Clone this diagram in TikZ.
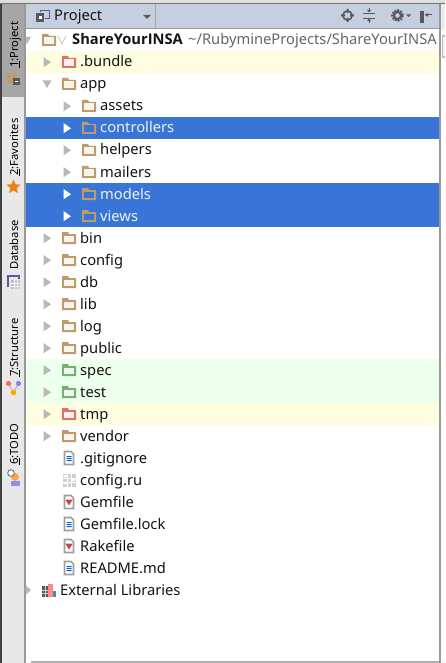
\documentclass[tikz,border=0pt]{standalone}
\usepackage{fontspec}
\usetikzlibrary{shapes.geometric}
\setmainfont{Noto Sans}
\newfontfamily\boldfam{Open Sans}
\definecolor{fold}{HTML}{BF9B6B}
\definecolor{redf}{HTML}{D9736B}
\definecolor{greenf}{HTML}{6FB36F}
\definecolor{arr}{HTML}{B8B8B8}
\definecolor{sel}{HTML}{3875D7}
\definecolor{txt}{HTML}{141414}
\definecolor{HeaderC}{HTML}{C5CFE0}
\tikzset{
 rowtext/.style={anchor=base west,inner sep=0pt,font=\fontsize{14.7}{16}\selectfont,text=txt},
 tabtext/.style={anchor=base west,inner sep=0pt,rotate=90,font=\fontsize{11.2}{13}\selectfont,text=black},
}
\newcommand{\folderic}[3]{% x y colour
 \fill[#3] (#1-7,#2-6) -- (#1-7,#2+6) -- (#1+7,#2+6) -- (#1+7,#2-4) -- (#1+0,#2-4) -- (#1-1,#2-6) -- cycle;
 \fill[#3!12!white] (#1-5.2,#2-2.5) rectangle (#1+5.2,#2+4.3);
}
\newcommand{\folderinner}[3]{% x y inner
 \fill[#3] (#1-5.2,#2-2.5) rectangle (#1+5.2,#2+4.3);
}
\newcommand{\arrR}[3]{\fill[#3] (#1-3.5,#2-5) -- (#1+4,#2+0.3) -- (#1-3.5,#2+5.3) -- cycle;}
\newcommand{\arrD}[2]{\fill[arr] (#1-4.5,#2-3.5) -- (#1+4.5,#2-3.5) -- (#1,#2+4) -- cycle;}
\newcommand{\fileic}[3]{% x y (text lines colour)
 \fill[white,draw=gray!75,line width=1.6pt] (#1-4.5,#2-6.5) -- (#1+2,#2-6.5) -- (#1+4.5,#2-4) -- (#1+4.5,#2+6.5) -- (#1-4.5,#2+6.5) -- cycle;
 #3
}
\newcommand{\bluelines}[2]{\fill[blue!50!cyan!80!black] (#1-2.5,#2-1) rectangle (#1+2.5,#2) (#1-2.5,#2+1) rectangle (#1+2.5,#2+2) (#1-2.5,#2+3) rectangle (#1+2.5,#2+4);}
\newcommand{\reddrop}[2]{\fill[red!75!black!75] (#1-3.7,#2-2.5) -- (#1+3.7,#2-2.5) -- (#1,#2+3.5) -- cycle;}
\begin{document}
\begin{tikzpicture}[x=1pt,y=-1pt]
\useasboundingbox (0,0) rectangle (445,663);
\fill[white] (0,0) rectangle (445,663);
% frame
\fill[gray!25] (0,0) rectangle (445,3.5);
\fill[gray!90!black] (0,3.5) rectangle (445,4);
\fill[black!75] (0,4) rectangle (1.6,663);
\fill[gray!18] (1.6,4) rectangle (24,663);
\fill[gray!80] (24,4) rectangle (25.5,663);
\fill[gray!70] (1.6,4) rectangle (24,97);
\fill[gray!60] (31,661) rectangle (440,663);
% header
\fill[HeaderC] (25.5,4) rectangle (439,28);
\fill[gray!80] (25.5,28) rectangle (439,29);
\fill[gray!70] (155,4) rectangle (156,28);
\fill[gray!80] (439,4) rectangle (440.5,663);
\fill[gray!15] (440.5,4) rectangle (445,29);
\fill[yellow!15] (440.5,29) rectangle (445,32);
\fill[gray!50] (442,35) rectangle (445,58);
\fill[gray!10] (443,37) rectangle (445,56);
\fill[gray!8] (440.5,660) rectangle (445,663);
% row backgrounds
\fill[yellow!12] (25.5,51) rectangle (439,73);
\fill[sel] (25.5,117) rectangle (439,139);
\fill[sel] (25.5,183) rectangle (439,227);
\fill[green!7] (25.5,359) rectangle (439,403);
\fill[yellow!12] (25.5,403) rectangle (439,425);
% header content
\fill[gray!70!black] (36,13) rectangle (44,22);
\fill[white] (38.5,16) rectangle (41.5,19.5);
\draw[blue!30!gray,line width=1pt] (40,12) -- (40,10.5) -- (49,10.5) -- (49,19) -- (45,19);
\node[rowtext,text=txt] (projecttitle) at (54,21) {Project};
\fill[gray!70!black] (143,15) -- (151,15) -- (147,19) -- cycle;
\draw[gray!70!black,line width=1.6pt] (347.5,15.5) circle (4.6);
\fill[gray!70!black] (346.5,9) rectangle (348.5,13) (346.5,18) rectangle (348.5,22) (341,14.5) rectangle (345,16.5) (350,14.5) rectangle (354,16.5);
\draw[gray!70!black,line width=0.7pt] (363,13) -- (375,13) (363,18) -- (375,18) (369,8) -- (369,11) (369,20) -- (369,23);
\fill[gray!70!black] (367,10) -- (371,10) -- (369,12.5) -- cycle (367,21) -- (371,21) -- (369,18.5) -- cycle;
\fill[gray!40] (383.5,8) rectangle (384.5,23);
\draw[gray!70!black,line width=2.2pt] (397.5,15.5) circle (3.6);
\draw[gray!70!black,line width=1.6pt,dash pattern=on 2pt off 1.2pt] (397.5,15.5) circle (5.6);
\fill[gray!70!black] (406,14.5) -- (411,14.5) -- (408.5,17) -- cycle;
\draw[gray!70!black,line width=1.4pt] (421,11.5) rectangle (423,22);
\draw[gray!70!black,line width=1pt] (425,15) -- (432,15);
\fill[gray!70!black] (425,15) -- (428,13) -- (428,17) -- cycle;
% root row
\fill[arr] (25.5,37) -- (31,37) -- (27,44) -- (25.5,41) -- cycle;
\folderic{49}{40}{fold}
\draw[gray!45,line width=0.7pt] (58,36) -- (62,44) -- (66,36);
\node[rowtext,font=\fontsize{14.7}{16}\boldfam\bfseries\selectfont] (ShareYourINSA) at (72,45) {ShareYourINSA};
\node[rowtext,text=gray!80!black] (rootpath) at (188,45) {\char"7E/RubymineProjects/ShareYourINSA};
% folders level 1
\foreach \n/\y/\c in {.bundle/62/redf,app/84/fold,bin/238/fold,config/260/fold,db/282/fold,lib/304/fold,log/326/fold,public/348/fold,spec/370/greenf,test/392/greenf,tmp/414/redf,vendor/436/fold}{
  \folderic{69}{\y}{\c}
  \node[rowtext] (lab\y) at (80,\y+5) {\n};
}
\foreach \y in {62,238,260,282,304,326,348,370,392,414,436}{\arrR{47}{\y}{arr}}
\arrD{47}{84}
% folders level 2
\foreach \n/\y in {assets/106,helpers/150,mailers/172}{
  \folderic{89}{\y}{fold}
  \arrR{67}{\y}{arr}
  \node[rowtext] (lab\y) at (100,\y+5) {\n};
}
\foreach \n/\y in {controllers/128,models/194,views/216}{
  \folderic{89}{\y}{fold}
  \folderinner{89}{\y}{sel}
  \arrR{67}{\y}{white}
  \node[rowtext,text=gray!12] (lab\y) at (100,\y+5) {\n};
}
% files
\fileic{69}{458}{\bluelines{69}{457}}
\node[rowtext] (lab458) at (80,463) {.gitignore};
\fill[gray!38] (62.5,474) rectangle (76,487);
\fill[white] (63.5,475) rectangle (66.5,477) (63.5,482) rectangle (66.5,484) (71,478) rectangle (75,481);
\draw[white,line width=0.5pt] (62.5,478) -- (76,478) (62.5,482.5) -- (76,482.5) (67,474) -- (67,487) (71.5,474) -- (71.5,487);
\node[rowtext] (lab480) at (80,485) {config.ru};
\fileic{69}{502}{\reddrop{69}{502}}
\node[rowtext] (lab502) at (80,507) {Gemfile};
\fileic{69}{524}{\bluelines{69}{523}}
\node[rowtext] (lab524) at (80,529) {Gemfile.lock};
\fileic{69}{546}{\reddrop{69}{546}}
\node[rowtext] (lab546) at (80,551) {Rakefile};
\fileic{69}{568}{\bluelines{69}{567}}
\node[rowtext] (lab568) at (80,573) {README.md};
% external
\fill[arr] (25.5,585) -- (31,590) -- (25.5,595) -- cycle;
\fill[gray!70!black] (42,586) rectangle (47.5,596.5);
\draw[gray!35,line width=.4pt] (42,590) -- (47.5,590) (42,593) -- (47.5,593) (44.7,586) -- (44.7,596.5);
\fill[red!45] (47.5,584) rectangle (52.5,596.5);
\fill[blue!40!cyan!50!gray] (52.5,591) rectangle (56,596.5);
\node[rowtext] (ext) at (60,595) {External Libraries};
% side tabs
\node[tabtext] (t1) at (18,68) {\underline{1}:Project};
\fill[fold] (7,73) rectangle (17,83);
\fill[gray!70!black] (13,78) rectangle (19.5,85);
\fill[white] (14.5,81) rectangle (18,82);
\node[tabtext] (t2) at (18,176) {\underline{2}:Favorites};
\node[star,star points=5,star point ratio=2.2,fill=orange!70!brown,inner sep=0pt,minimum size=15pt] (starico) at (13.5,187) {};
\node[tabtext] (t3) at (18,270) {Database};
\draw[blue!30!gray,line width=1.2pt] (8,287) -- (8,276) -- (19,276) -- (19,279);
\fill[gray!50] (11,280) rectangle (20,288.5);
\draw[white,line width=.4pt] (11,283) -- (20,283) (11,286) -- (20,286) (14,280) -- (14,288.5) (17,280) -- (17,288.5);
\node[tabtext] (t4) at (18,377) {\underline{7}:Structure};
\draw[gray!70,line width=.8pt] (8.5,383.5) -- (13.5,392.5) -- (18.5,383.5);
\fill[red!60] (8.5,383.5) circle (2.6);
\fill[blue!50] (18.5,383.5) circle (2.6);
\fill[orange!70!yellow] (13.5,392.5) circle (2.8);
\node[tabtext] (t5) at (18,465) {\underline{6}:TODO};
\fill[orange!70] (15,477) circle (4);
\fill[blue!45] (10.5,481) rectangle (19.5,486);
\draw[gray!80!black,fill=white,line width=.8pt] (11,473) circle (3.3);
\end{tikzpicture}
\end{document}
